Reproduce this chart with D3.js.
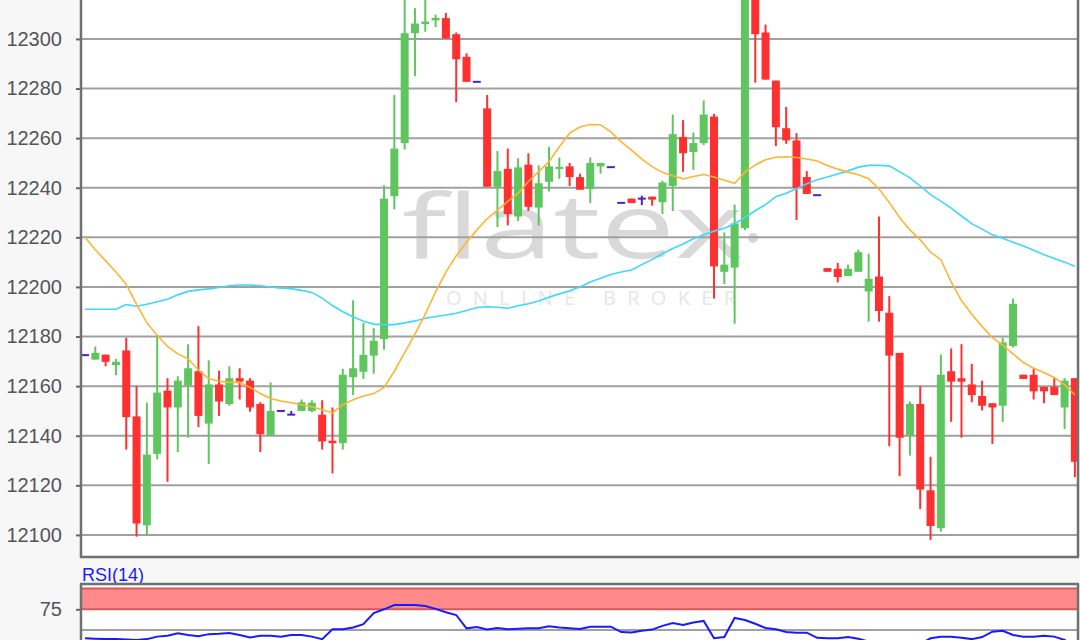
<!DOCTYPE html>
<html><head><meta charset="utf-8">
<script src="https://cdn.jsdelivr.net/npm/d3@7"></script>
<style>html,body{margin:0;padding:0;background:#f7f7f7;}svg{display:block;}</style>
</head><body>
<script>
// ---- data ----
const opens  = [12172.5,12170.7,12172.7,12168.5,12174.4,12147.8,12103.9,12132.7,12158.2,12151.4,
  12160.3,12166,12144.9,12160.7,12152.8,12163.2,12162.2,12152.8,12140.2,12150,
  12148.5,12150,12150,12148.5,12138,12137,12163.6,12165.8,12172.3,12179,
  12236.6,12258,12302.3,12306,12307.5,12308.4,12301.9,12292.8,12282.7,12272,
  12240.4,12247.6,12228.4,12249.3,12232,12242.4,12247.8,12248.6,12244.3,12239.5,
  12248.6,12248.3,12233.9,12235.6,12235.6,12236.4,12234.2,12240.7,12260.5,12254.4,
  12258,12268.7,12206.1,12207.8,12223.7,12324,12302.6,12283.2,12264,12259.1,
  12244.3,12237,12207.6,12207.3,12204.4,12206.1,12198.2,12204.2,12189.6,12173.4,
  12140.2,12152.8,12118,12102.7,12166,12163.2,12160.7,12156,12153.1,12152.1,
  12176.2,12164.6,12164.6,12159.7,12159.7,12151.4,12163.2];
const highs  = [12172.5,12176,12172.7,12171,12179.5,12160,12153.3,12180.6,12163.2,12164,
  12176.9,12184.2,12170.4,12166.2,12168,12167.2,12163.2,12153.5,12161.5,12150,
  12150,12154.6,12154.3,12154.3,12151.4,12167,12194.6,12185.5,12183.4,12241,
  12277.4,12322,12312.4,12318,12309.8,12310.5,12302.6,12294.2,12282.7,12277.4,
  12254.8,12255.8,12251.9,12253.9,12249,12256.5,12252.2,12250,12245.7,12252.2,
  12250,12248.3,12233.9,12235.6,12236.8,12236.4,12242.8,12269.5,12267.3,12262.3,
  12275.2,12269.8,12222,12233.2,12332,12330,12305.8,12283.2,12272.6,12262,
  12246.7,12237,12207.6,12209.7,12209,12215,12213.4,12228.4,12196.3,12173.4,
  12153.8,12160,12131.5,12172.7,12175.2,12176.9,12169,12162.2,12153.1,12179.5,
  12195.3,12164.6,12167,12159.7,12163.2,12163.2,12163.2];
const lows   = [12172.5,12170.7,12168,12164.4,12134.4,12099.3,12100,12130.5,12121.4,12133.4,
  12139.2,12143.5,12128.6,12148,12152.1,12154.6,12149.7,12133.4,12140.2,12150,
  12148.5,12150,12149.5,12134.4,12124.8,12134.4,12156.4,12162.9,12165,12174.7,
  12231.3,12255.4,12285,12302.9,12304.8,12300.2,12274.5,12282.7,12282.7,12240.4,
  12224.1,12224.8,12226.6,12230.6,12224.8,12238.5,12243.6,12240.7,12239.2,12233.8,
  12245.7,12248.3,12233.9,12233.8,12233,12232.8,12229.4,12230.6,12246.4,12247.2,
  12257.2,12195.3,12201.1,12185.2,12223,12282.4,12283.6,12256.8,12257.7,12227,
  12237.5,12237,12206.1,12201.8,12204.4,12206.1,12186,12186,12135.8,12123.7,
  12132,12110.4,12098,12101.3,12145.6,12139.2,12153.5,12150.2,12136.7,12145.6,
  12175.6,12162.9,12154.6,12153.1,12156.4,12142.7,12123.3];
const closes = [12172.5,12173.4,12169.8,12169.8,12147.5,12104.6,12132.4,12157.4,12151.4,12162.2,
  12167.2,12148,12160.7,12153.8,12163.2,12161.8,12151.4,12140.6,12150,12150,
  12148.5,12153.5,12153.3,12137.7,12137,12164.6,12167.2,12172.6,12178.3,12235.6,
  12255.8,12302.3,12306.2,12307,12308.5,12300.2,12291.8,12282.7,12282.7,12240.4,
  12246.7,12229.4,12248.2,12232.3,12241.8,12248.6,12248.4,12244.3,12239.2,12250,
  12250,12248.3,12233.9,12233.8,12235.6,12235.2,12242.1,12261.6,12253.9,12258,
  12269.5,12208.3,12209,12225.6,12326,12301.9,12283.6,12264.4,12259.1,12239.9,
  12237.5,12237,12206.1,12204,12207.3,12214,12203.3,12190.3,12172.3,12139.2,
  12152.8,12118.3,12103.6,12164.6,12161.8,12161.8,12156.4,12152.1,12151.4,12177.6,
  12193.2,12162.9,12157.9,12157.9,12156.4,12162.2,12129.5];
const maFast = [12220,12215,12210.5,12206,12201,12193,12185.5,12180.5,12176,12173,
  12171,12166.5,12163,12162,12161.5,12161.5,12159.5,12157,12155,12154,
  12153.3,12152.5,12151.7,12150.5,12149.2,12152.5,12154.5,12156,12157,12159.5,
  12166,12173.5,12181,12189,12198,12206,12212.5,12218,12223,12227.5,
  12231,12234.5,12237.8,12242.5,12246.5,12250.5,12256.5,12262,12264.5,12265.5,
  12265.4,12262.5,12258.5,12255.2,12251.5,12248.5,12246.2,12244.8,12243.6,12244.5,
  12245.3,12244.3,12243,12241.8,12246.3,12249.2,12251.3,12252.3,12252.5,12252.2,
  12251.6,12250.8,12249,12247.5,12246.3,12245.2,12243.6,12239.5,12234,12228,
  12223,12219,12214,12211,12202,12194.5,12189,12184,12179.5,12176.5,
  12173,12169.5,12167.2,12165.5,12163.5,12160.5,12156.5];
const maSlow = [12191,12191,12191,12191,12192.9,12192.2,12193,12194,12195,12196.8,
  12198.2,12198.8,12199.2,12199.8,12200.5,12200.8,12200.8,12200.5,12200,12199.5,
  12199.3,12198.6,12197.8,12195.5,12192.5,12190,12188,12186.2,12185,12184.8,
  12184.8,12185.5,12186.3,12187.4,12188.1,12188.7,12189.4,12190.5,12191.7,12192,
  12191.8,12191.4,12192.4,12193.2,12194.3,12195.8,12197.2,12198.5,12200,12202,
  12203.5,12205,12206,12206.8,12209,12211,12213.4,12215.5,12217.3,12219.4,
  12221,12222.5,12223.7,12225.5,12228,12230.7,12233.2,12236.4,12237.8,12239.6,
  12241.6,12243.2,12244.3,12245.5,12246.8,12248.3,12249,12249,12248.8,12246.5,
  12244,12240.7,12237.2,12234.6,12231.8,12228.6,12225.5,12223.3,12221,12219.6,
  12218,12216.5,12214.8,12213,12211.5,12210,12208.3];
const rsi = [40,39.5,39,39,38.5,38,39,42,43,46,
  44,42.5,45,45.5,46.5,44,41,43,43,42,
  44,44,42,39,50.8,50.8,53,57,70.5,75,
  80.2,80.2,80.2,79,75.5,71.5,68.1,52,53.5,50.5,
  52.5,51,51.5,52,52,54.5,53,52,51.2,54,
  54,54,47.5,47,49.2,50.5,55,58.5,56,59,
  61,40,41.5,64.5,62,57.5,52.5,51,47.5,46.8,
  46.8,40.5,40,40,41.5,39.5,36,34,30,27,
  29,33,40,41.9,41.9,40.5,39,41.5,48,49,
  44,41.9,41.9,43,42,38,30];
const priceTicks = [12100,12120,12140,12160,12180,12200,12220,12240,12260,12280,12300];
const rsiTicks = [75];
const rsiZone = [75, 100];
const rsiMid = 50;
const bars = d3.range(opens.length);

// ---- layout ----
const W = 1080, H = 640;
const left = 81, right = 1078, mainBottom = 557, rsiTop = 584;
const svg = d3.select("body").append("svg").attr("width", W).attr("height", H);
const font = "'Liberation Sans', Arial, sans-serif";

const x = d3.scaleLinear().domain([0, bars.length - 1]).range([85, 1074.9]);
const y = d3.scaleLinear().domain([12091.1, 12315.7]).range([mainBottom, 0]);
const yr = d3.scaleLinear().domain([50, 100]).range([630, 588.6]);

svg.append("rect").attr("width", W).attr("height", H).attr("fill", "#f7f7f7");
svg.append("rect").attr("x", left).attr("y", -5).attr("width", right - left).attr("height", mainBottom + 5).attr("fill", "#fff");
svg.append("rect").attr("x", left).attr("y", rsiTop).attr("width", right - left).attr("height", H - rsiTop + 5).attr("fill", "#fff");

const defs = svg.append("defs");
defs.append("clipPath").attr("id", "mainClip").append("rect")
  .attr("x", left).attr("y", -5).attr("width", right - left).attr("height", mainBottom + 5);
defs.append("clipPath").attr("id", "rsiClip").append("rect")
  .attr("x", left).attr("y", rsiTop).attr("width", right - left).attr("height", H - rsiTop + 5);

// watermark
const wm = svg.append("g").attr("clip-path", "url(#mainClip)");
wm.append("text").attr("x", 402).attr("y", 258).attr("textLength", 342).attr("lengthAdjust", "spacingAndGlyphs")
  .attr("font-family", "'Open Sans', sans-serif").attr("font-size", 90).attr("font-weight", 400)
  .attr("fill", "#d9d9d9").text("flatex");
wm.append("circle").attr("cx", 753).attr("cy", 238).attr("r", 5).attr("fill", "#d6d6d6");
wm.append("text").attr("x", 446).attr("y", 305).attr("textLength", 290).attr("lengthAdjust", "spacing")
  .attr("font-family", "'Open Sans', sans-serif").attr("font-size", 20)
  .attr("fill", "#e6e6e6").text("ONLINE BROKER");

// grid
const main = svg.append("g");
main.selectAll("line.grid").data(priceTicks).join("line").attr("class", "grid")
  .attr("x1", left).attr("x2", right).attr("y1", d => y(d)).attr("y2", d => y(d))
  .attr("stroke", "#a0a0a0").attr("stroke-width", 2);

// y axis
const yAxis = d3.axisLeft(y).tickValues(priceTicks).tickFormat(d3.format("d")).tickSize(5).tickPadding(14);
const ga = svg.append("g").attr("transform", `translate(${left},0)`).call(yAxis);
ga.select(".domain").remove();
ga.selectAll(".tick line").attr("stroke", "#666").attr("stroke-width", 2);
ga.selectAll(".tick text").attr("font-family", font).attr("font-size", 20).attr("fill", "#555");

// candles
const cg = svg.append("g").attr("clip-path", "url(#mainClip)");
const up = "#5fc65f", down = "#ff3030", doji = "#4a22cc";
const col = i => closes[i] > opens[i] ? up : (closes[i] < opens[i] ? down : doji);
cg.selectAll("line.wick").data(bars).join("line").attr("class", "wick")
  .attr("x1", i => x(i)).attr("x2", i => x(i))
  .attr("y1", i => y(highs[i])).attr("y2", i => y(lows[i]))
  .attr("stroke", col).attr("stroke-width", 2);
cg.selectAll("rect.body").data(bars).join("rect").attr("class", "body")
  .attr("x", i => x(i) - 4).attr("width", 8)
  .attr("y", i => closes[i] === opens[i] ? y(opens[i]) - 1 : y(Math.max(opens[i], closes[i])))
  .attr("height", i => Math.max(2, Math.abs(y(opens[i]) - y(closes[i]))))
  .attr("fill", col);

// moving averages
const line = arr => d3.line().x(i => x(i)).y(i => y(arr[i]));
cg.append("path").datum(bars).attr("d", line(maSlow)).attr("fill", "none").attr("stroke", "#3dd8fb").attr("stroke-width", 1.6);
cg.append("path").datum(bars).attr("d", line(maFast)).attr("fill", "none").attr("stroke", "#ffb531").attr("stroke-width", 1.6);

// main frame
svg.append("line").attr("x1", left).attr("x2", left).attr("y1", 0).attr("y2", mainBottom + 1).attr("stroke", "#707070").attr("stroke-width", 2.5);
svg.append("line").attr("x1", left - 1).attr("x2", right + 1).attr("y1", mainBottom).attr("y2", mainBottom).attr("stroke", "#707070").attr("stroke-width", 2.5);
svg.append("line").attr("x1", right).attr("x2", right).attr("y1", 0).attr("y2", mainBottom).attr("stroke", "#707070").attr("stroke-width", 2.5);

// RSI panel
svg.append("text").attr("x", 82).attr("y", 581).attr("font-family", font).attr("font-size", 18)
  .attr("fill", "#1a1aff").text("RSI(14)");
const rg = svg.append("g").attr("clip-path", "url(#rsiClip)");
rg.append("rect").attr("x", left).attr("width", right - left)
  .attr("y", yr(rsiZone[1])).attr("height", yr(rsiZone[0]) - yr(rsiZone[1]))
  .attr("fill", "#ff8a8a");
rg.selectAll("line.zone").data(rsiZone).join("line").attr("class", "zone")
  .attr("x1", left).attr("x2", right).attr("y1", d => yr(d)).attr("y2", d => yr(d))
  .attr("stroke", "#d45a5a").attr("stroke-width", 2);
rg.append("line").attr("x1", left).attr("x2", right).attr("y1", yr(rsiMid)).attr("y2", yr(rsiMid))
  .attr("stroke", "#a0a0a0").attr("stroke-width", 2);
rg.append("path").datum(bars).attr("d", d3.line().x(i => x(i)).y(i => yr(rsi[i])))
  .attr("fill", "none").attr("stroke", "#1a1aff").attr("stroke-width", 2);

const rAxis = d3.axisLeft(yr).tickValues(rsiTicks).tickSize(5).tickPadding(14);
const gr = svg.append("g").attr("transform", `translate(${left},0)`).call(rAxis);
gr.select(".domain").remove();
gr.selectAll(".tick line").attr("stroke", "#666").attr("stroke-width", 2);
gr.selectAll(".tick text").attr("font-family", font).attr("font-size", 20).attr("fill", "#555");

svg.append("line").attr("x1", left - 1).attr("x2", right + 1).attr("y1", rsiTop).attr("y2", rsiTop).attr("stroke", "#707070").attr("stroke-width", 2.5);
svg.append("line").attr("x1", left).attr("x2", left).attr("y1", rsiTop).attr("y2", H).attr("stroke", "#707070").attr("stroke-width", 2.5);
svg.append("line").attr("x1", right).attr("x2", right).attr("y1", rsiTop).attr("y2", H).attr("stroke", "#707070").attr("stroke-width", 2.5);
</script>
</body></html>
